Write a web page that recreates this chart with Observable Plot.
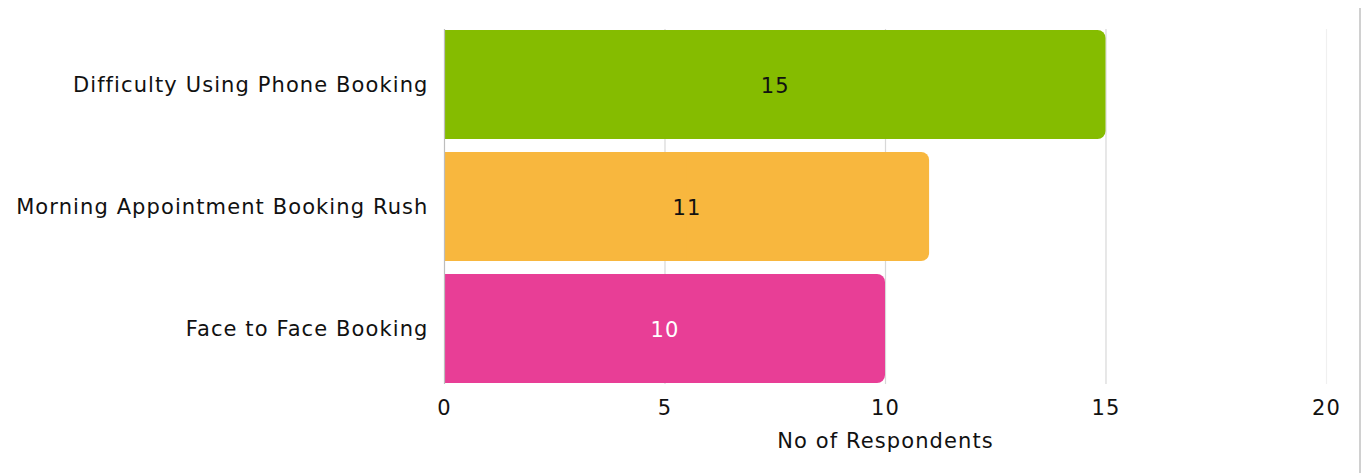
<!DOCTYPE html>
<html>
<head>
<meta charset="utf-8">
<script src="https://cdn.jsdelivr.net/npm/d3@7"></script>
<script src="https://cdn.jsdelivr.net/npm/@observablehq/plot@0.6"></script>
<style>
  html, body { margin: 0; padding: 0; background: #fff; }
  #wrap { position: relative; width: 1362px; height: 473px; }
  #edge { position: absolute; left: 1359px; top: 8px; width: 2px; height: 465px; background: #d0d0d0; }
  svg { font-family: "DejaVu Sans", sans-serif; letter-spacing: 1.1px; }
</style>
</head>
<body>
<div id="wrap"><div id="edge"></div></div>
<script>
// Booking issues reported by respondents
const categories = ["Difficulty Using Phone Booking", "Morning Appointment Booking Rush", "Face to Face Booking"];
const respondents = [15, 11, 10];
const barColors = ["#85bc00", "#f8b73e", "#e83e96"];
const labelColors = ["#111111", "#111111", "#ffffff"];
const xTicks = [0, 5, 10, 15, 20];

const rows = categories.map((c, i) => ({
  category: c,
  value: respondents[i],
  fill: barColors[i],
  text: labelColors[i]
}));

const chart = Plot.plot({
  width: 1362,
  height: 473,
  marginLeft: 444,
  marginRight: 36,
  marginTop: 29,
  marginBottom: 89,
  style: { fontSize: "21px", color: "#111" },
  x: { domain: [0, 20], ticks: xTicks, label: null },
  y: { domain: categories, paddingInner: 0.11, paddingOuter: 0, label: null },
  marks: [
    Plot.ruleX(xTicks.filter(d => d > 0), { stroke: d => d === 20 ? "#f0f0f0" : "#d8d8d8", strokeWidth: 1.2 }),
    // rounded bar, then a square-cornered half to keep the left edge flat
    Plot.barX(rows, { y: "category", x: "value", fill: "fill", rx: 8 }),
    Plot.barX(rows, { y: "category", x1: 0, x2: d => d.value / 2, fill: "fill" }),
    Plot.ruleX([0], { stroke: "#bdbdbd", strokeWidth: 1.2 }),
    Plot.text(rows, { y: "category", x: d => d.value / 2, text: d => String(d.value), fill: "text", fontSize: 21, dy: 1 }),
    Plot.axisY({ tickSize: 0, tickPadding: 16, fontSize: 21, label: null }),
    Plot.axisX({ ticks: xTicks, tickSize: 0, tickPadding: 16, fontSize: 21, label: null }),
    Plot.text(["No of Respondents"], { frameAnchor: "bottom", dy: 63, fontSize: 21, fill: "#111" })
  ]
});

document.getElementById("wrap").prepend(chart);
</script>
</body>
</html>
